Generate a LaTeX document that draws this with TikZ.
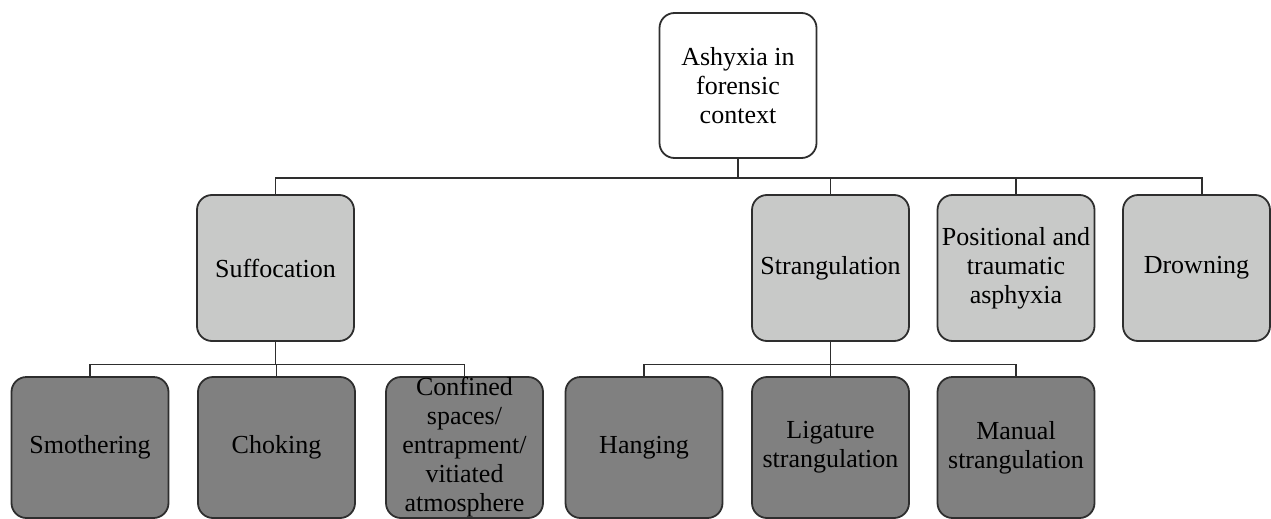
\documentclass[tikz,border=0pt]{standalone}
\usepackage{fontspec}
\setmainfont{Liberation Serif}
\definecolor{lvltwo}{HTML}{C8C9C8}
\definecolor{lvlthree}{HTML}{808080}
\definecolor{edge}{HTML}{2E2E2E}
\tikzset{
  basebox/.style={draw=edge, line width=1.8pt, rounded corners=15pt, align=center,
    minimum width=157pt, minimum height=146pt, inner sep=0pt,
    font=\fontsize{26}{29}\selectfont},
  topbox/.style={basebox, fill=white, minimum height=145pt},
  midbox/.style={basebox, fill=lvltwo},
  lowbox/.style={basebox, fill=lvlthree, minimum height=141pt},
  conn/.style={draw=edge, line width=1.8pt}
}
\begin{document}
\begin{tikzpicture}[x=1pt,y=-1pt]
\useasboundingbox (0,0) rectangle (1271,519);
\coordinate (b1) at (738,178);
\coordinate (b2) at (275.5,364.5);
\coordinate (b3) at (830.5,364.5);
\coordinate (dtop) at (1202,196);
\node[topbox] (top) at (738,85.5) {Ashyxia in\\forensic\\context};
\node[midbox] (suff) at (275.5,268) {Suffocation};
\node[midbox] (str) at (830.5,268) {Strangulation};
\node[midbox] (pos) at (1016,268) {Positional and\\traumatic\\asphyxia};
\node[midbox, minimum width=147pt] (drown) at (1196.5,268) {Drowning};
\node[lowbox] (smo) at (90,447.5) {Smothering};
\node[lowbox] (cho) at (276.5,447.5) {Choking};
\node[lowbox] (con) at (464.5,447.5) {Confined\\spaces/\\entrapment/\\vitiated\\atmosphere};
\node[lowbox] (hang) at (644,447.5) {Hanging};
\node[lowbox] (lig) at (830.5,447.5) {Ligature\\strangulation};
\node[lowbox] (man) at (1016,447.5) {Manual\\strangulation};
\draw[conn] (top.south) -- (b1);
\draw[conn] (b1) -| (suff.north);
\draw[conn] (b1) -| (str.north);
\draw[conn] (b1) -| (pos.north);
\draw[conn] (b1) -| (dtop);
\draw[conn] (suff.south) -- (b2);
\draw[conn] (b2) -| (smo.north);
\draw[conn] (b2) -| (cho.north);
\draw[conn] (b2) -| (con.north);
\draw[conn] (str.south) -- (b3);
\draw[conn] (b3) -| (hang.north);
\draw[conn] (b3) -| (lig.north);
\draw[conn] (b3) -| (man.north);
\end{tikzpicture}
\end{document}
